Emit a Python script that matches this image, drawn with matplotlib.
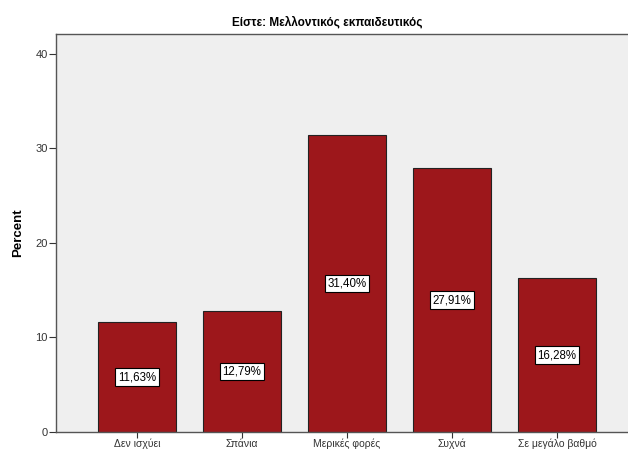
import matplotlib.pyplot as plt
import numpy as np

categories = ["Δεν ισχύει", "Σπάνια", "Μερικές φορές", "Συχνά", "Σε μεγάλο βαθμό"]
percent = [11.63, 12.79, 31.40, 27.91, 16.28]
bar_labels = ["11,63%", "12,79%", "31,40%", "27,91%", "16,28%"]

plt.rcParams['font.family'] = ['Liberation Sans', 'DejaVu Sans']

fig = plt.figure(figsize=(6.28, 4.5), dpi=100)
ax = fig.add_axes([56 / 628, 18 / 450, 582 / 628, 398 / 450])
ax.set_facecolor("#efefef")

x = np.arange(len(categories))
ax.bar(x, percent, width=0.75, color="#9d171b", edgecolor="#222222", linewidth=0.8, zorder=2)

for xi, v, lab in zip(x, percent, bar_labels):
    ax.text(xi, v / 2, lab, ha="center", va="center", fontsize=8.3, zorder=3,
            bbox=dict(boxstyle="square,pad=0.25", fc="white", ec="black", lw=0.8))

ax.set_xlim(-0.771, 4.771)
ax.set_ylim(0, 42.1)
ax.set_yticks([0, 10, 20, 30, 40])
ax.set_xticks(x)
ax.set_xticklabels(categories, fontsize=7.5)
ax.tick_params(axis="y", labelsize=8, length=5, width=0.8, colors="#333333", pad=1)
ax.tick_params(axis="x", length=4, width=0.8, colors="#333333", pad=1)
for s in ax.spines.values():
    s.set_color("#555555")
    s.set_linewidth(1.0)

ax.set_ylabel("Percent", fontsize=9.5, fontweight="bold", labelpad=8)
fig.text(327 / 628, 1 - 22 / 450, "Είστε: Μελλοντικός εκπαιδευτικός",
         ha="center", va="center", fontsize=8.5, fontweight="bold",
         family=['Liberation Sans Narrow', 'Liberation Sans', 'DejaVu Sans'])

fig.savefig("out.png", dpi=100)
